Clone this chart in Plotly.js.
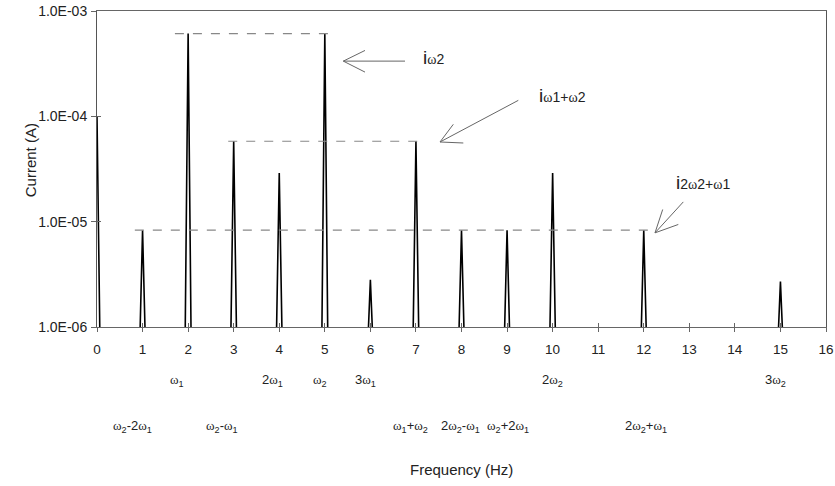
<!DOCTYPE html>
<html>
<head>
<meta charset="utf-8">
<script src="https://cdn.plot.ly/plotly-3.0.1.min.js"></script>
<style>html,body{margin:0;padding:0;background:#fff;}#chart{width:835px;height:486px;}</style>
</head>
<body>
<div id="chart"></div>
<script>
// ---- data ----
const freqs   = [0,      1,      2,      3,      4,      5,      6,      7,      8,      9,      10,     12,     15];
const current = [1.0e-4, 8.3e-6, 6.1e-4, 5.8e-5, 2.9e-5, 6.1e-4, 2.8e-6, 5.8e-5, 8.3e-6, 8.3e-6, 2.9e-5, 8.3e-6, 2.7e-6];
const xTicks = [0,1,2,3,4,5,6,7,8,9,10,11,12,13,14,15,16];
const yTickVals = [1e-6, 1e-5, 1e-4, 1e-3];
const yTickText = ['1.0E-06', '1.0E-05', '1.0E-04', '1.0E-03'];
// harmonic labels: row 1 and row 2 below the axis
const row1Pos = [1.75, 3.86, 4.9, 5.9, 10.0, 14.9];
const row1Lab = ['ω<sub>1</sub>', '2ω<sub>1</sub>', 'ω<sub>2</sub>', '3ω<sub>1</sub>', '2ω<sub>2</sub>', '3ω<sub>2</sub>'];
const row2Pos = [0.79, 2.75, 6.87, 7.97, 9.02, 12.05];
const row2Lab = ['ω<sub>2</sub>-2ω<sub>1</sub>', 'ω<sub>2</sub>-ω<sub>1</sub>', 'ω<sub>1</sub>+ω<sub>2</sub>', '2ω<sub>2</sub>-ω<sub>1</sub>', 'ω<sub>2</sub>+2ω<sub>1</sub>', '2ω<sub>2</sub>+ω<sub>1</sub>'];
// reference (dashed) levels: [peak index, x start, x end]
const refLevels = [[2, 1.71, 5.18], [3, 2.88, 7.2], [1, 0.83, 12.18]];

// ---- build spikes ----
const HALF = 0.07, FLOOR = 5e-7;
const sx = [], sy = [];
freqs.forEach((f, i) => {
  sx.push(f - HALF, f, f + HALF, null);
  sy.push(FLOOR, current[i], FLOOR, null);
});

const traces = [
  {x: sx, y: sy, type: 'scatter', mode: 'lines', line: {color: '#000', width: 1.6}, hoverinfo: 'skip', showlegend: false},
  {x: [null], y: [null], xaxis: 'x2', yaxis: 'y2', type: 'scatter', mode: 'lines', showlegend: false, hoverinfo: 'skip'}
];

// pixel -> paper helpers (plot area 97..826 x 10.5..327)
const L = 97, R = 826, T = 10.5, B = 327;
const px = v => (v - L) / (R - L);
const py = v => 1 - (v - T) / (B - T);

const shapes = [];
refLevels.forEach(([idx, x0, x1]) => {
  shapes.push({type: 'line', xref: 'x', yref: 'y', x0: x0, x1: x1, y0: current[idx], y1: current[idx],
               line: {color: '#888', width: 1.2, dash: 'dash'}});
});
const arrows = [
  {tail: [405, 60.7], tip: [343.3, 60.7], h1: [365, 50], h2: [365, 71.7]},
  {tail: [518.3, 100], tip: [440, 141.7], h1: [453.3, 124], h2: [463.3, 142.7]},
  {tail: [683.3, 201.7], tip: [655, 232.7], h1: [662.7, 209.3], h2: [678.3, 224.3]}
];
arrows.forEach(a => {
  [a.tail, a.h1, a.h2].forEach(p => {
    shapes.push({type: 'line', xref: 'paper', yref: 'paper', x0: px(a.tip[0]), y0: py(a.tip[1]), x1: px(p[0]), y1: py(p[1]),
                 line: {color: '#666', width: 1}});
  });
});

const sym = s => s.replace(/ω/g, '<span style="font-family:Liberation Serif">ω</span>');
const annotations = [];
row1Pos.forEach((x, i) => annotations.push({x: x, y: py(381), xref: 'x', yref: 'paper', text: sym(row1Lab[i]), showarrow: false,
  xanchor: 'center', yanchor: 'middle', font: {family: 'Liberation Sans, Arial', size: 13, color: '#222'}}));
row2Pos.forEach((x, i) => annotations.push({x: x, y: py(427), xref: 'x', yref: 'paper', text: sym(row2Lab[i]), showarrow: false,
  xanchor: 'center', yanchor: 'middle', font: {family: 'Liberation Sans, Arial', size: 13, color: '#222'}}));
const bigI = '<span style="font-size:19px">i</span>';
annotations.push({x: px(421), y: py(57), xref: 'paper', yref: 'paper', xanchor: 'left', yanchor: 'middle', showarrow: false,
  text: bigI + sym('ω') + '2', font: {family: 'Liberation Sans, Arial', size: 14, color: '#222'}});
annotations.push({x: px(537), y: py(95), xref: 'paper', yref: 'paper', xanchor: 'left', yanchor: 'middle', showarrow: false,
  text: bigI + sym('ω') + '1+' + sym('ω') + '2', font: {family: 'Liberation Sans, Arial', size: 14, color: '#222'}});
annotations.push({x: px(674), y: py(182), xref: 'paper', yref: 'paper', xanchor: 'left', yanchor: 'middle', showarrow: false,
  text: bigI + '2' + sym('ω') + '2+' + sym('ω') + '1', font: {family: 'Liberation Sans, Arial', size: 14, color: '#222'}});
annotations.push({x: px(461), y: py(470), xref: 'paper', yref: 'paper', xanchor: 'center', yanchor: 'middle', showarrow: false,
  text: 'Frequency (Hz)', font: {family: 'Liberation Sans, Arial', size: 15, color: '#222'}});
annotations.push({x: px(30), y: py(160), xref: 'paper', yref: 'paper', xanchor: 'center', yanchor: 'middle', showarrow: false,
  textangle: -90, text: 'Current (A)', font: {family: 'Liberation Sans, Arial', size: 15, color: '#222'}});

const layout = {
  width: 835, height: 486,
  margin: {l: L, r: 835 - R, t: T, b: 486 - B},
  paper_bgcolor: '#fff', plot_bgcolor: '#fff',
  showlegend: false,
  xaxis: {range: [0, 16], tickvals: xTicks, ticktext: xTicks.map(String), ticks: 'outside', ticklen: 4, tickcolor: '#666',
          ticklabelstandoff: 6,
          showgrid: false, zeroline: false, showline: true, linecolor: '#666', linewidth: 1, mirror: true,
          tickfont: {family: 'Liberation Sans, Arial', size: 13.5, color: '#222'}, fixedrange: true},
  yaxis: {type: 'log', range: [-6, -3], tickvals: yTickVals, ticktext: yTickText, ticks: 'outside', ticklen: 5, tickcolor: '#666',
          ticklabelstandoff: 1,
          showgrid: false, zeroline: false, showline: true, linecolor: '#555', linewidth: 1, mirror: true,
          tickfont: {family: 'Liberation Sans, Arial', size: 14, color: '#222'}, fixedrange: true},
  xaxis2: {overlaying: 'x', range: [0, 16], tickvals: xTicks, ticks: 'inside', ticklen: 4, tickcolor: '#666',
           showticklabels: false, showgrid: false, zeroline: false, showline: false},
  yaxis2: {overlaying: 'y', type: 'log', range: [-6, -3], tickvals: yTickVals, ticks: 'inside', ticklen: 4, tickcolor: '#666',
           showticklabels: false, showgrid: false, zeroline: false, showline: false},
  shapes: shapes,
  annotations: annotations
};
Plotly.newPlot('chart', traces, layout, {displayModeBar: false, staticPlot: true});
</script>
</body>
</html>
